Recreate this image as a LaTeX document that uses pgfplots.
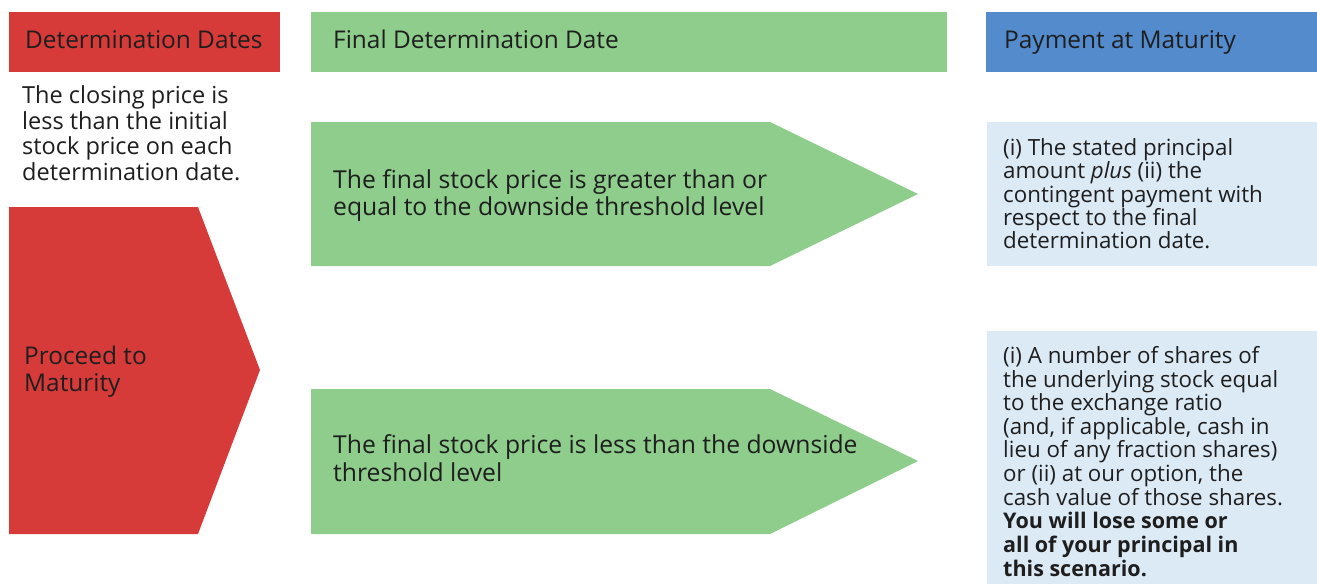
\documentclass[border=0pt]{standalone}
\usepackage{pgfplots}
\pgfplotsset{compat=1.18}
\usepackage{fontspec}
\setmainfont{Open Sans}
\definecolor{cred}{RGB}{214,59,58}
\definecolor{cgreen}{RGB}{142,205,140}
\definecolor{cblue}{RGB}{84,139,204}
\definecolor{clblue}{RGB}{220,234,246}
\definecolor{ctext}{RGB}{30,30,30}
\tikzset{
  th/.style={inner sep=0pt,anchor=base west,text=ctext,font=\fontsize{24.5}{25}\selectfont},
  tl/.style={inner sep=0pt,anchor=base west,text=ctext,font=\fontsize{23.6}{25}\selectfont},
  ta/.style={inner sep=0pt,anchor=base west,text=ctext,font=\fontsize{24.8}{25}\selectfont},
  tb/.style={inner sep=0pt,anchor=base west,text=ctext,font=\fontsize{22.4}{23}\selectfont},
  tbb/.style={inner sep=0pt,anchor=base west,text=ctext,font=\fontsize{21.6}{23}\selectfont\bfseries},
}
\begin{document}
\begin{tikzpicture}
\begin{axis}[width=1317bp,height=584bp,scale only axis,
  xmin=0,xmax=1317,ymin=0,ymax=584,y dir=reverse,hide axis,clip=false]
% background
\addplot[fill=white,draw=none] coordinates {(0,0)(1317,0)(1317,584)(0,584)};
% headers
\addplot[fill=cred,draw=none] coordinates {(9,12)(280,12)(280,72)(9,72)};
\addplot[fill=cgreen,draw=none] coordinates {(311,12)(947,12)(947,72)(311,72)};
\addplot[fill=cblue,draw=none] coordinates {(986,12)(1317,12)(1317,72)(986,72)};
% red arrow
\addplot[fill=cred,draw=none] coordinates {(9,207)(198,207)(260,370)(198,534)(9,534)};
% green arrows
\addplot[fill=cgreen,draw=none] coordinates {(311,122)(770,122)(918,194)(770,266)(311,266)};
\addplot[fill=cgreen,draw=none] coordinates {(311,389)(770,389)(918,461)(770,534)(311,534)};
% light blue boxes
\addplot[fill=clblue,draw=none] coordinates {(987,122)(1317,122)(1317,266)(987,266)};
\addplot[fill=clblue,draw=none] coordinates {(987,331)(1317,331)(1317,584)(987,584)};
% header texts
\node[th] at (axis cs:25,49) {Determination Dates};
\node[th] at (axis cs:333,49) {Final Determination Date};
\node[th] at (axis cs:1004,49) {Payment at Maturity};
% left text
\node[tl] at (axis cs:22,103) {The closing price is};
\node[tl] at (axis cs:22,129) {less than the initial};
\node[tl] at (axis cs:22,154) {stock price on each};
\node[tl] at (axis cs:22,180) {determination date.};
\node[th] at (axis cs:24,364) {Proceed to};
\node[th] at (axis cs:24,391) {Maturity};
% arrow texts
\node[ta] at (axis cs:333,188) {The final stock price is greater than or};
\node[ta] at (axis cs:333,215) {equal to the downside threshold level};
\node[ta] at (axis cs:333,453) {The final stock price is less than the downside};
\node[ta] at (axis cs:333,481) {threshold level};
% blue box 1
\node[tb] at (axis cs:1003,155) {(i) The stated principal};
\node[tb] at (axis cs:1003,178) {amount \textit{plus} (ii) the};
\node[tb] at (axis cs:1003,202) {contingent payment with};
\node[tb] at (axis cs:1003,225) {respect to the final};
\node[tb] at (axis cs:1003,248) {determination date.};
% blue box 2
\node[tb] at (axis cs:1003,363) {(i) A number of shares of};
\node[tb] at (axis cs:1003,387) {the underlying stock equal};
\node[tb] at (axis cs:1003,410) {to the exchange ratio};
\node[tb] at (axis cs:1003,434) {(and, if applicable, cash in};
\node[tb] at (axis cs:1003,457) {lieu of any fraction shares)};
\node[tb] at (axis cs:1003,481) {or (ii) at our option, the};
\node[tb] at (axis cs:1003,505) {cash value of those shares.};
\node[tbb] at (axis cs:1003,528) {You will lose some or};
\node[tbb] at (axis cs:1003,552) {all of your principal in};
\node[tbb] at (axis cs:1003,576) {this scenario.};
\end{axis}
\end{tikzpicture}
\end{document}
